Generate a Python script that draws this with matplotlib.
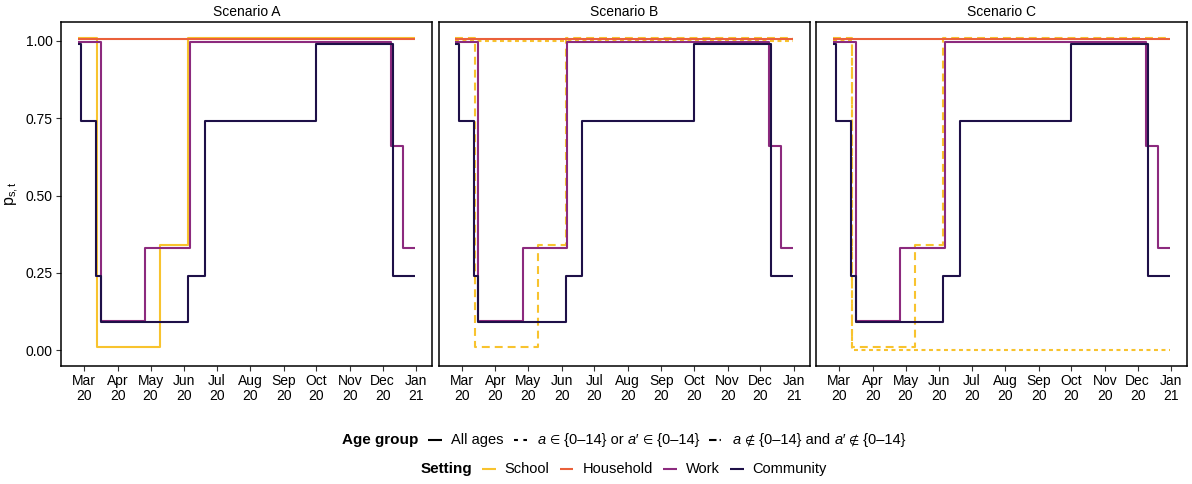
import matplotlib
matplotlib.use("Agg")
import matplotlib.pyplot as plt
import matplotlib.dates as mdates
from matplotlib.lines import Line2D

plt.rcParams['font.family'] = ['Liberation Sans', 'DejaVu Sans']
plt.rcParams['mathtext.fontset'] = 'custom'
plt.rcParams['mathtext.rm'] = 'Liberation Sans'
plt.rcParams['mathtext.it'] = 'Liberation Sans:italic'

# ---- data: step schedules (change dates and values) ----
scenarios = ["Scenario A", "Scenario B", "Scenario C"]

school_dates = ["2020-02-24", "2020-03-13", "2020-05-10", "2020-06-05", "2020-12-31"]
school_vals = [1.01, 0.01, 0.34, 1.01, 1.01]

household_dates = ["2020-02-24", "2020-12-31"]
household_vals = [1.005, 1.005]

work_dates = ["2020-02-24", "2020-03-16", "2020-04-26", "2020-06-06",
              "2020-12-09", "2020-12-20", "2020-12-31"]
work_vals = [0.995, 0.095, 0.33, 0.995, 0.66, 0.33, 0.33]

community_dates = ["2020-02-24", "2020-02-27", "2020-03-12", "2020-03-16",
                   "2020-06-05", "2020-06-20", "2020-10-01", "2020-12-11", "2020-12-31"]
community_vals = [0.99, 0.74, 0.24, 0.09, 0.24, 0.74, 0.99, 0.24, 0.24]

# school contacts between adults only (scenarios B and C)
school_adult_b_dates = ["2020-02-24", "2020-12-31"]
school_adult_b_vals = [1.0, 1.0]
school_adult_c_dates = ["2020-02-24", "2020-03-13", "2020-12-31"]
school_adult_c_vals = [1.0, 0.0, 0.0]

settings = ["School", "Household", "Work", "Community"]
colors = {"School": "#F8C32E", "Household": "#EA603A",
          "Work": "#8C2A7E", "Community": "#1E1048"}

y_ticks = [0.0, 0.25, 0.5, 0.75, 1.0]
y_ticklabels = ["0.00", "0.25", "0.50", "0.75", "1.00"]
month_ticks = ["2020-03-01", "2020-04-01", "2020-05-01", "2020-06-01", "2020-07-01",
               "2020-08-01", "2020-09-01", "2020-10-01", "2020-11-01", "2020-12-01",
               "2021-01-01"]
month_labels = ["Mar\n20", "Apr\n20", "May\n20", "Jun\n20", "Jul\n20", "Aug\n20",
                "Sep\n20", "Oct\n20", "Nov\n20", "Dec\n20", "Jan\n21"]

DASHED = (0, (3.8, 2.4))
DASHED_KEY = (0, (1.9, 2.6))
DOTDASH_LINE = (0, (1.9, 1.7))
DOTDASH_KEY = (0, (3.6, 1.5, 0.6, 1.5))
LW = 1.5


def to_num(ds):
    return mdates.datestr2num(ds)


W, H = 1192, 484
fig = plt.figure(figsize=(W / 100, H / 100), dpi=100)

panel_left = [61, 438.5, 816]
panel_w = 371
top_px, bot_px = 22, 366

x0 = to_num("2020-02-24")
x1 = to_num("2020-12-31")
xpad = 0.05 * (x1 - x0)
ylo, yhi = 0.0, 1.01
ypad = 0.05 * (yhi - ylo)

axes = []
for i, name in enumerate(scenarios):
    ax = fig.add_axes([panel_left[i] / W, 1 - bot_px / H, panel_w / W, (bot_px - top_px) / H])
    axes.append(ax)

    def step(dates, vals, color, ls="-", z=2):
        ax.plot(to_num(dates), vals, drawstyle="steps-post", color=color,
                lw=LW, ls=ls, zorder=z, solid_capstyle="butt", dash_capstyle="butt")

    school_ls = "-" if i == 0 else DASHED
    step(school_dates, school_vals, colors["School"], school_ls, 2)
    if i == 1:
        step(school_adult_b_dates, school_adult_b_vals, colors["School"], DOTDASH_LINE, 2)
    if i == 2:
        step(school_adult_c_dates, school_adult_c_vals, colors["School"], DOTDASH_LINE, 2)
    step(household_dates, household_vals, colors["Household"], "-", 3)
    step(work_dates, work_vals, colors["Work"], "-", 4)
    step(community_dates, community_vals, colors["Community"], "-", 5)

    ax.set_xlim(x0 - xpad, x1 + xpad)
    ax.set_ylim(ylo - ypad, yhi + ypad)
    ax.set_xticks(to_num(month_ticks))
    ax.set_xticklabels(month_labels, fontsize=10, color="black", linespacing=1.12)
    ax.set_yticks(y_ticks)
    if i == 0:
        ax.set_yticklabels(y_ticklabels, fontsize=10, color="black")
        ax.tick_params(axis="y", length=3.5, width=0.8, color="#333333", pad=2.5)
    else:
        ax.tick_params(axis="y", left=False, labelleft=False)
    ax.tick_params(axis="x", length=3.5, width=0.8, color="#333333", pad=2)
    for sp in ax.spines.values():
        sp.set_linewidth(1.1)
        sp.set_color("black")
    ax.set_title(name, fontsize=10, pad=4)

axes[0].set_ylabel(r"$\mathregular{p_{s,t}}$", fontsize=11.5, labelpad=3)

# ---- legends drawn below the panels, each row centred under the panels ----
renderer = fig.canvas.get_renderer()
center_px = (panel_left[0] + panel_left[2] + panel_w) / 2


def fx(px):
    return px / W


def fy(py):
    return 1 - py / H


def legend_row(y, items):
    placed = []
    total = 0.0
    for it in items:
        kind = it[0]
        if kind == "text":
            _, s, kw = it
            kw = dict(kw)
            size = kw.pop("size", 10.5)
            t = fig.text(0, fy(y), s, va="baseline", ha="left", fontsize=size, **kw)
            w = t.get_window_extent(renderer=renderer).width
            placed.append(("text", t, w))
            total += w
        elif kind == "key":
            _, color, ls = it
            placed.append(("key", (color, ls), 13.5))
            total += 13.5
        else:
            placed.append(("gap", None, it[1]))
            total += it[1]
    x = center_px - total / 2
    for kind, obj, w in placed:
        if kind == "text":
            obj.set_x(fx(x))
        elif kind == "key":
            color, ls = obj
            fig.add_artist(Line2D([fx(x), fx(x + w)], [fy(y - 4), fy(y - 4)], color=color,
                                  lw=LW, ls=ls, transform=fig.transFigure,
                                  solid_capstyle="butt", dash_capstyle="butt"))
        x += w


it_kw = {"style": "italic"}
sym_kw = {"size": 8.5, "family": "DejaVu Sans"}
row1 = [
    ("text", "Age group", {"size": 11, "fontweight": "bold"}), ("gap", 10),
    ("key", "black", "-"), ("gap", 9.5),
    ("text", "All ages", {}), ("gap", 10),
    ("key", "black", DASHED_KEY), ("gap", 10),
    ("text", "a", it_kw), ("text", " ", {}), ("text", "\u2208", sym_kw),
    ("text", " {0\u201314} or ", {}), ("text", "a\u2032", it_kw), ("text", " ", {}),
    ("text", "\u2208", sym_kw), ("text", " {0\u201314}", {}), ("gap", 10),
    ("key", "black", DOTDASH_KEY), ("gap", 9.5),
    ("text", "a", it_kw), ("text", " ", {}), ("text", "\u2209", sym_kw),
    ("text", " {0\u201314} and ", {}), ("text", "a\u2032", it_kw), ("text", " ", {}),
    ("text", "\u2209", sym_kw), ("text", " {0\u201314}", {}),
]
legend_row(444, row1)

row2 = [("text", "Setting", {"size": 11, "fontweight": "bold"}), ("gap", 9.5)]
for k, s in enumerate(settings):
    row2 += [("key", colors[s], "-"), ("gap", 9), ("text", s, {})]
    if k < len(settings) - 1:
        row2.append(("gap", 10.5))
legend_row(473, row2)

fig.savefig("out.png", dpi=100)
